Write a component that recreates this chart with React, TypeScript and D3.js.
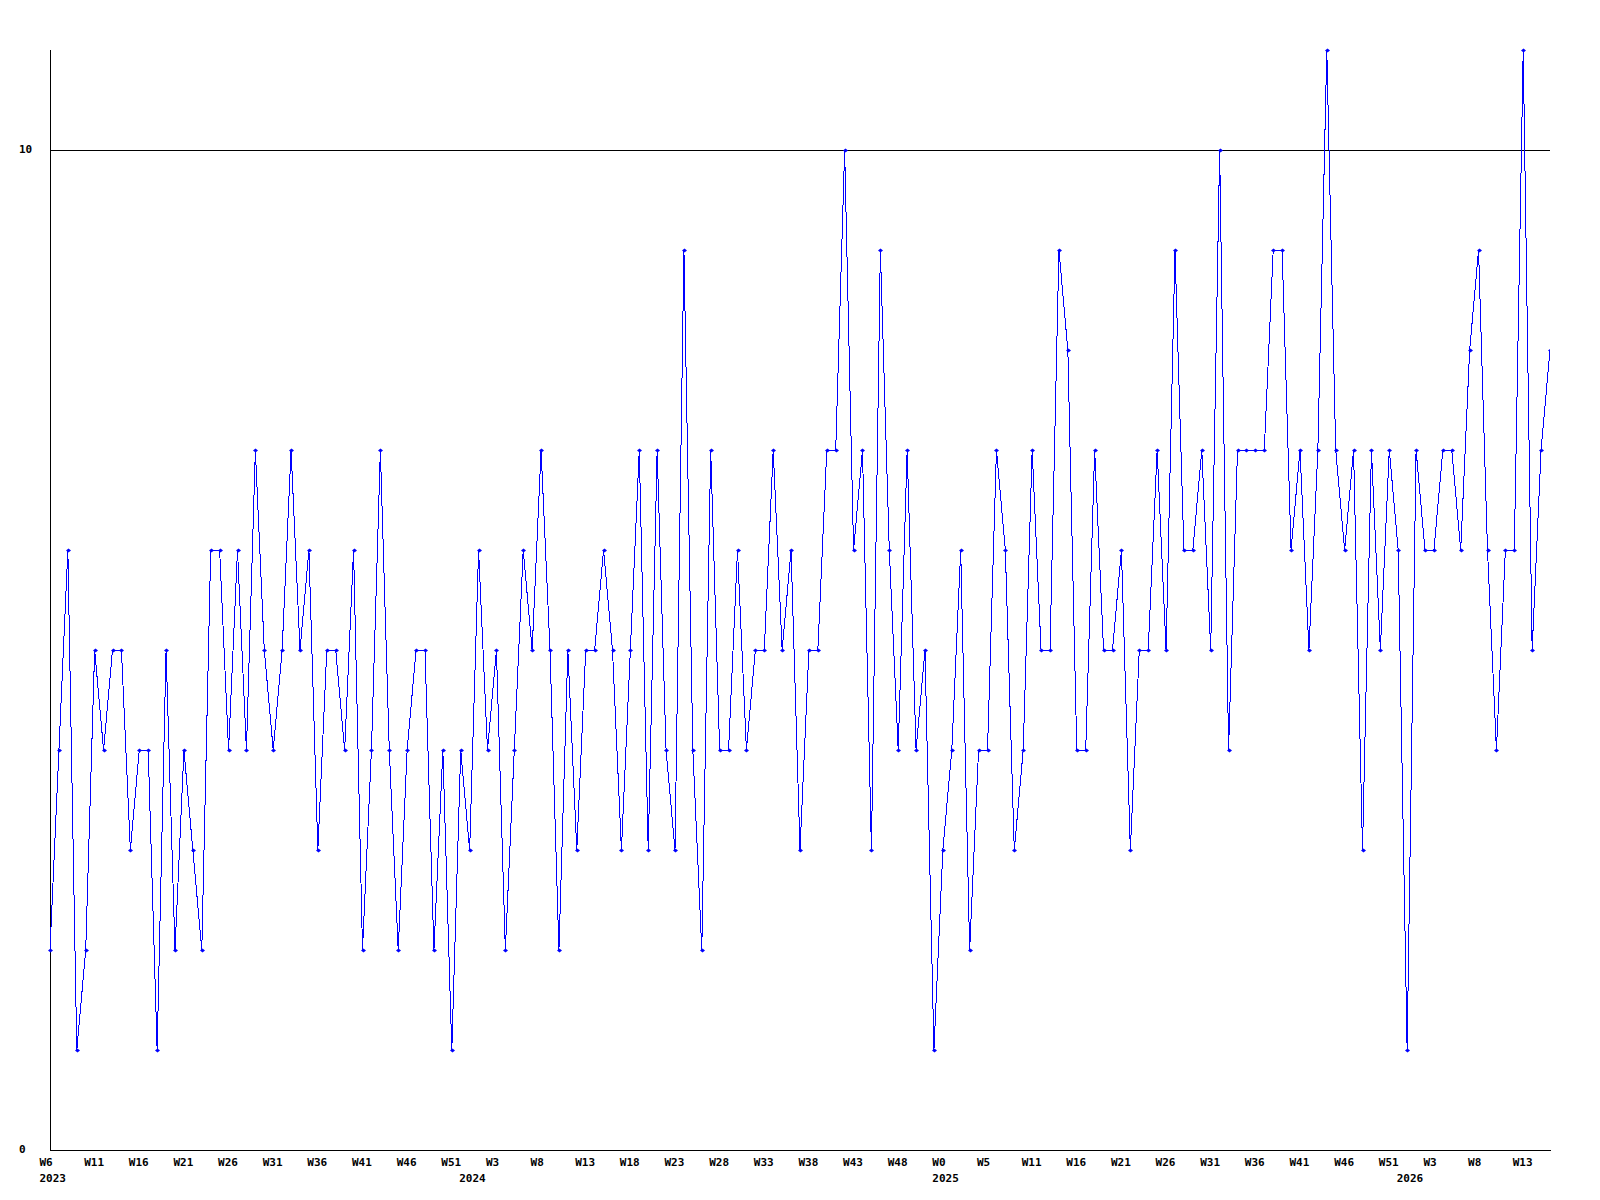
import React from "react";
import * as d3 from "d3";

// Weekly counts, 2023 W6 onwards (one value per week)
const values: number[] = [
  2, 4, 6, 1, 2, 5, 4, 5, 5, 3, 4, 4, 1, 5, 2, 4, 3, 2, 6, 6, 4, 6,
  4, 7, 5, 4, 5, 7, 5, 6, 3, 5, 5, 4, 6, 2, 4, 7, 4, 2, 4, 5, 5,
  2, 4, 1, 4, 3, 6, 4, 5, 2, 4, 6, 5, 7, 5, 2, 5, 3, 5, 5, 6, 5, 3,
  5, 7, 3, 7, 4, 3, 9, 4, 2, 7, 4, 4, 6, 4, 5, 5, 7, 5, 6, 3, 5,
  5, 7, 7, 10, 6, 7, 3, 9, 6, 4, 7, 4, 5, 1, 3, 4, 6, 2, 4, 4, 7,
  6, 3, 4, 7, 5, 5, 9, 8, 4, 4, 7, 5, 5, 6, 3, 5, 5, 7, 5, 9, 6,
  6, 7, 5, 10, 4, 7, 7, 7, 7, 9, 9, 6, 7, 5, 7, 11, 7, 6, 7, 3, 7, 5,
  7, 6, 1, 7, 6, 6, 7, 7, 6, 8, 9, 6, 4, 6, 6, 11, 5, 7, 8,
];

// Week tick labels (every 5th week) and their week index
const weekTickIndex: number[] = [
  0, 5, 10, 15, 20, 25, 30, 35, 40, 45, 50, 55, 60, 65, 70, 75, 80, 85, 90,
  95, 100, 105, 110, 115, 120, 125, 130, 135, 140, 145, 150, 155, 160, 165,
];
const weekTickLabels: string[] = [
  "W6", "W11", "W16", "W21", "W26", "W31", "W36", "W41", "W46", "W51",
  "W3", "W8", "W13", "W18", "W23", "W28", "W33", "W38", "W43", "W48",
  "W0", "W5", "W11", "W16", "W21", "W26", "W31", "W36", "W41", "W46",
  "W51", "W3", "W8", "W13",
];
const yearTickIndex: number[] = [0, 47, 100, 152];
const yearTickLabels: string[] = ["2023", "2024", "2025", "2026"];

const yTicks: number[] = [0, 10];

export default function App() {
  const W = 1600;
  const H = 1200;
  const left = 50;
  const right = 1550;
  const top = 50;
  const bottom = 1150;

  const x = d3.scaleLinear().domain([0, values.length - 1]).range([left, right]);
  const y = d3.scaleLinear().domain([0, 11]).range([bottom, top]);

  const line = d3
    .line<number>()
    .x((_, i) => x(i))
    .y((d) => y(d));

  const font = "'DejaVu Sans Mono', 'Liberation Mono', monospace";

  return (
    <svg
      width={W}
      height={H}
      style={{ position: "absolute", left: 0, top: 0, background: "#fff" }}
    >
      <rect x={0} y={0} width={W} height={H} fill="#fff" />
      <defs>
        <clipPath id="plot">
          <rect x={left - 5} y={top - 5} width={right - left + 5} height={bottom - top + 10} />
        </clipPath>
      </defs>
      {/* horizontal reference line at 10 */}
      {yTicks
        .filter((t) => t > 0)
        .map((t) => (
          <line
            key={"g" + t}
            x1={left}
            x2={right}
            y1={Math.round(y(t)) + 0.5}
            y2={Math.round(y(t)) + 0.5}
            stroke="#000"
            strokeWidth={1}
            shapeRendering="crispEdges"
          />
        ))}
      {/* axes */}
      <line x1={left + 0.5} x2={left + 0.5} y1={top} y2={bottom} stroke="#000" strokeWidth={1} shapeRendering="crispEdges" />
      <line x1={left} x2={right + 1} y1={bottom + 0.5} y2={bottom + 0.5} stroke="#000" strokeWidth={1} shapeRendering="crispEdges" />

      {/* y tick labels */}
      {yTicks.map((t) => (
        <text
          key={"yt" + t}
          x={19}
          y={y(t)}
          dominantBaseline="middle"
          fontFamily={font}
          fontWeight="bold"
          fontSize={11}
          fill="#000"
        >
          {t}
        </text>
      ))}

      {/* x tick labels */}
      {weekTickIndex.map((idx, k) => (
        <text
          key={"xt" + k}
          x={x(idx) - 10.5}
          y={1163}
          dominantBaseline="middle"
          fontFamily={font}
          fontWeight="bold"
          fontSize={11}
          fill="#000"
        >
          {weekTickLabels[k]}
        </text>
      ))}
      {yearTickIndex.map((idx, k) => (
        <text
          key={"yr" + k}
          x={x(idx) - 10.5}
          y={1179}
          dominantBaseline="middle"
          fontFamily={font}
          fontWeight="bold"
          fontSize={11}
          fill="#000"
        >
          {yearTickLabels[k]}
        </text>
      ))}

      <g clipPath="url(#plot)">
        <path
          d={line(values) || ""}
          fill="none"
          stroke="#0000ff"
          strokeWidth={1}
          shapeRendering="crispEdges"
        />
        {values.map((v, i) => {
          const cx = Math.round(x(i)) + 0.5;
          const cy = Math.round(y(v)) + 0.5;
          return (
            <path
              key={"m" + i}
              d={`M${cx - 2.5},${cy}L${cx},${cy - 2}L${cx + 2.5},${cy}L${cx},${cy + 2}Z`}
              fill="#0000ff"
              stroke="none"
            />
          );
        })}
      </g>
    </svg>
  );
}
